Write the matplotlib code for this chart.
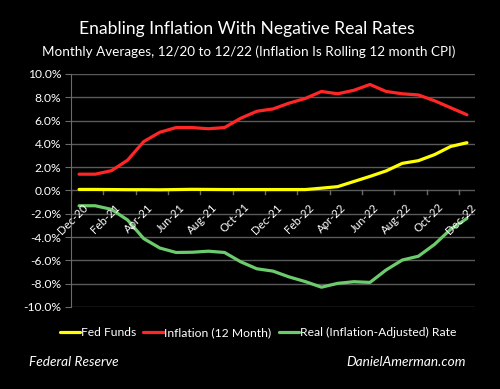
import matplotlib
matplotlib.use("Agg")
import matplotlib.pyplot as plt
import numpy as np

months = ["Dec-20","Jan-21","Feb-21","Mar-21","Apr-21","May-21","Jun-21","Jul-21","Aug-21","Sep-21",
          "Oct-21","Nov-21","Dec-21","Jan-22","Feb-22","Mar-22","Apr-22","May-22","Jun-22","Jul-22",
          "Aug-22","Sep-22","Oct-22","Nov-22","Dec-22"]
fed_funds = [0.09,0.09,0.08,0.07,0.07,0.06,0.08,0.10,0.09,0.08,0.08,0.08,0.08,0.08,0.08,0.20,0.33,
             0.77,1.21,1.68,2.33,2.56,3.08,3.78,4.10]
inflation = [1.4,1.4,1.7,2.6,4.2,5.0,5.4,5.4,5.3,5.4,6.2,6.8,7.0,7.5,7.9,8.5,8.3,8.6,9.1,8.5,8.3,
             8.2,7.7,7.1,6.5]
real_rate = [-1.31,-1.31,-1.62,-2.53,-4.13,-4.94,-5.32,-5.30,-5.21,-5.32,-6.12,-6.72,-6.92,-7.42,
             -7.82,-8.30,-7.97,-7.83,-7.89,-6.82,-5.97,-5.64,-4.62,-3.32,-2.40]
yticks = [-10,-8,-6,-4,-2,0,2,4,6,8,10]

font = ["Lato", "DejaVu Sans"]
plt.rcParams['font.family'] = font

fig = plt.figure(figsize=(5, 3.89), dpi=100, facecolor="black")
ax = fig.add_axes([0.142, 0.2108, 0.808, 0.599], facecolor="black")

x = np.arange(len(months))
ax.plot(x, fed_funds, color="#FFFF00", lw=2.3, label="Fed Funds", solid_capstyle="round")
ax.plot(x, inflation, color="#FF2626", lw=2.3, label="Inflation (12 Month)", solid_capstyle="round")
ax.plot(x, real_rate, color="#6CCB6C", lw=2.3, label="Real (Inflation-Adjusted) Rate", solid_capstyle="round")

ax.set_xlim(-0.5, len(months) - 0.5)
ax.set_ylim(-10, 10)
ax.set_yticks(yticks)
ax.set_yticklabels([f"{v:.1f}%" for v in yticks], color="white", fontsize=8.7)
ax.yaxis.grid(True, color="#5a5a5a", lw=1)
ax.set_axisbelow(True)
for s in ["top", "right", "bottom"]:
    ax.spines[s].set_visible(False)
ax.spines["left"].set_color("#6a6a6a")
ax.tick_params(axis="y", colors="#6a6a6a", length=4, labelcolor="white", pad=3)

# x tick marks at category boundaries along the zero line
ax.set_xticks([])
for b in np.arange(-0.5, len(months) - 1, 2):
    ax.plot([b, b], [0, -0.3], color="#6a6a6a", lw=1, zorder=1)
for i in range(0, len(months), 2):
    ax.text(i + 0.2, -0.95, months[i], rotation=45, ha="right", va="top",
            rotation_mode="anchor", color="white", fontsize=8.2, zorder=5)

fig.text(0.494, 0.925, "Enabling Inflation With Negative Real Rates", color="white",
         fontsize=12.6, ha="center", va="center")
fig.text(0.497, 0.866, "Monthly Averages, 12/20 to 12/22 (Inflation Is Rolling 12 month CPI)",
         color="white", fontsize=9.7, ha="center", va="center")

leg = fig.legend(loc="center", bbox_to_anchor=(0.516, 0.145), ncol=3, frameon=False,
                 fontsize=8.7, handlelength=1.7, handletextpad=0.05, columnspacing=0.6,
                 labelcolor="white")

fig.text(0.058, 0.069, "Federal Reserve", color="white", fontsize=9.8, style="italic",
         ha="left", va="center")
fig.text(0.932, 0.069, "DanielAmerman.com", color="white", fontsize=9.8, style="italic",
         ha="right", va="center")

fig.savefig("out.png", dpi=100, facecolor="black")
